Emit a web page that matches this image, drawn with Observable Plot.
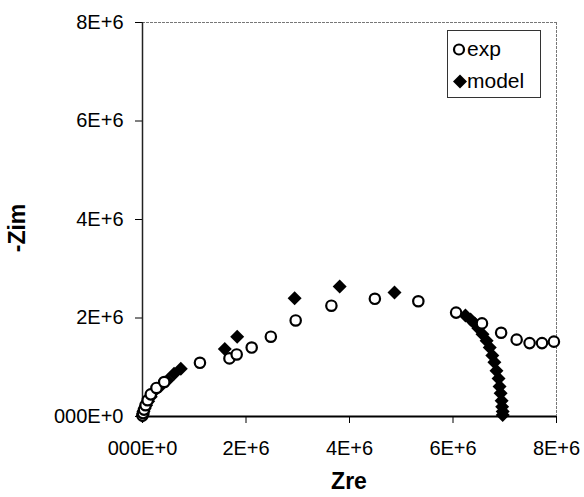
<!DOCTYPE html>
<html>
<head>
<meta charset="utf-8">
<script src="https://cdn.jsdelivr.net/npm/d3@7"></script>
<script src="https://cdn.jsdelivr.net/npm/@observablehq/plot@0.6"></script>
<style>
  html, body { margin: 0; padding: 0; background: #fff; }
  #chart svg { display: block; }
</style>
</head>
<body>
<div id="chart"></div>
<script>
// Experimental data (Zre, -Zim), in units of 1E+6
const expZre = [0.00, 0.01, 0.03, 0.06, 0.10, 0.16, 0.27, 0.42, 1.11, 1.68, 1.82, 2.11, 2.48, 2.96, 3.65, 4.49, 5.33, 6.06, 6.56, 6.93, 7.23, 7.48, 7.72, 7.95];
const expZim = [0.02, 0.07, 0.14, 0.23, 0.33, 0.45, 0.58, 0.70, 1.09, 1.18, 1.26, 1.40, 1.62, 1.95, 2.25, 2.39, 2.34, 2.11, 1.89, 1.70, 1.56, 1.49, 1.49, 1.52];

// Model data (Zre, -Zim), in units of 1E+6
const modelZre = [0.00, 0.01, 0.02, 0.04, 0.07, 0.11, 0.16, 0.23, 0.35, 0.48, 0.61, 0.74, 1.59, 1.83, 2.94, 3.81, 4.87, 6.24, 6.34, 6.42, 6.49, 6.57, 6.65, 6.71, 6.76, 6.80, 6.84, 6.88, 6.90, 6.92, 6.94, 6.95, 6.96, 6.96];
const modelZim = [0.01, 0.05, 0.10, 0.16, 0.23, 0.31, 0.40, 0.52, 0.62, 0.73, 0.87, 0.97, 1.37, 1.62, 2.40, 2.64, 2.52, 2.05, 1.97, 1.89, 1.79, 1.67, 1.54, 1.40, 1.24, 1.10, 0.93, 0.77, 0.61, 0.47, 0.32, 0.20, 0.10, 0.03];

const xTicks = [0, 2e6, 4e6, 6e6, 8e6];
const yTicks = [0, 2e6, 4e6, 6e6, 8e6];
const tickLabel = d => d === 0 ? "000E+0" : (d / 1e6) + "E+6";
const seriesNames = ["exp", "model"];

const expData = expZre.map((x, i) => ({x: x * 1e6, y: expZim[i] * 1e6}));
const modelData = modelZre.map((x, i) => ({x: x * 1e6, y: modelZim[i] * 1e6}));

const W = 584, H = 497;
const mL = 142, mR = 28, mT = 22, mB = 81;
const FONT = "'Liberation Sans', Arial, sans-serif";

const plot = Plot.plot({
  width: W,
  height: H,
  marginLeft: mL,
  marginRight: mR,
  marginTop: mT,
  marginBottom: mB,
  style: {fontFamily: FONT, fontSize: "20px", color: "#000", background: "#fff"},
  x: {domain: [0, 8e6], label: null},
  y: {domain: [0, 8e6], label: null},
  marks: [
    Plot.ruleY([8e6], {stroke: "#777", strokeWidth: 1, strokeDasharray: "3,1"}),
    Plot.ruleX([8e6], {stroke: "#777", strokeWidth: 1, strokeDasharray: "3,1"}),
    Plot.axisX({ticks: xTicks, tickFormat: tickLabel, tickSize: 7, tickPadding: 17, stroke: "#000", fontSize: 20}),
    Plot.axisY({ticks: yTicks, tickFormat: tickLabel, tickSize: 7, tickPadding: 12, stroke: "#000", fontSize: 20}),
    Plot.ruleX([0], {stroke: "#222", strokeWidth: 1.5}),
    Plot.ruleY([0], {stroke: "#000", strokeWidth: 2}),
    Plot.dot(modelData, {x: "x", y: "y", symbol: "diamond2", r: 6.3, fill: "#000", stroke: "none"}),
    Plot.dot(expData, {x: "x", y: "y", symbol: "circle", r: 5.2, fill: "#fff", stroke: "#000", strokeWidth: 2.2})
  ]
});

document.getElementById("chart").appendChild(plot);

const svg = d3.select(plot);
// axis titles
svg.append("text")
  .attr("x", 349).attr("y", 489)
  .attr("text-anchor", "middle")
  .attr("font-family", FONT)
  .attr("font-weight", "bold").attr("font-size", 23)
  .attr("fill", "#000")
  .text("Zre");
svg.append("text")
  .attr("transform", "translate(25,228) rotate(-90)")
  .attr("text-anchor", "middle")
  .attr("font-family", FONT)
  .attr("font-weight", "bold").attr("font-size", 23)
  .attr("fill", "#000")
  .text("-Zim");

// legend
const lg = svg.append("g").attr("font-family", FONT).attr("font-size", 21).attr("text-anchor", "start");
lg.append("rect").attr("x", 447.5).attr("y", 30.5).attr("width", 93).attr("height", 67)
  .attr("fill", "#fff").attr("stroke", "#333").attr("stroke-width", 1);
lg.append("circle").attr("cx", 459).attr("cy", 49.5).attr("r", 5).attr("fill", "#fff").attr("stroke", "#000").attr("stroke-width", 2.2);
lg.append("text").attr("x", 467).attr("y", 56).attr("text-anchor", "start").text(seriesNames[0]);
lg.append("path").attr("d", "M460,74.5L467,81.5L460,88.5L453,81.5Z").attr("fill", "#000");
lg.append("text").attr("x", 467).attr("y", 88).attr("text-anchor", "start").text(seriesNames[1]);
</script>
</body>
</html>
